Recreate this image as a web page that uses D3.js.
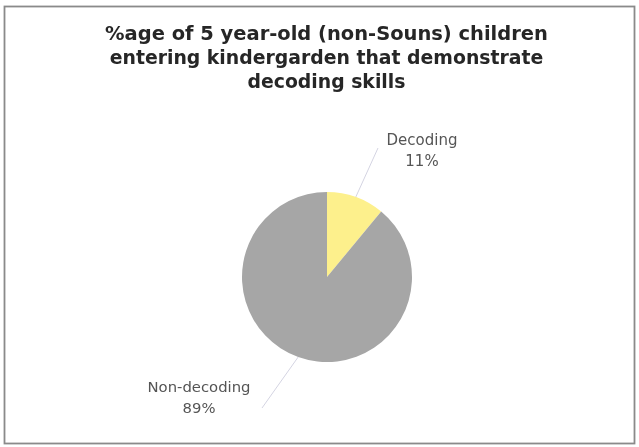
<!DOCTYPE html>
<html><head><meta charset="utf-8">
<script src="https://cdn.jsdelivr.net/npm/d3@7"></script>
<style>html,body{margin:0;padding:0;background:#fff;}svg{display:block;}</style>
</head><body>
<script>
const titleLines = ["%age of 5 year-old (non-Souns) children", "entering kindergarden that demonstrate", "decoding skills"];
const categories = ["Decoding", "Non-decoding"];
const values = [11, 89];
const colors = ["#fdf08c", "#a6a6a6"];

const W = 639, H = 447;
const svg = d3.select("body").append("svg").attr("width", W).attr("height", H);
svg.append("rect").attr("x", 4.5).attr("y", 6.5).attr("width", 630).attr("height", 437)
  .attr("fill", "#fff").attr("stroke", "#8a8a8a").attr("stroke-width", 1.8);

const defs = svg.append("defs");
defs.append("filter").attr("id", "blur").append("feGaussianBlur").attr("stdDeviation", 0.45);

const tg = svg.append("g").attr("filter", "url(#blur)");
const titleY = [40, 63.5, 87.5];
const titleW = [443, 434, 158];
titleLines.forEach((t, i) => {
  const el = tg.append("text").attr("x", 326.5).attr("y", titleY[i]).attr("text-anchor", "middle")
    .attr("font-family", "Verdana, 'DejaVu Sans', sans-serif").attr("font-weight", "bold")
    .attr("font-size", 15).attr("fill", "#262626").text(t);
  const w = el.node().getComputedTextLength();
  el.attr("font-size", 15 * titleW[i] / w);
});

const cx = 327, cy = 277, R = 85;
const pie = d3.pie().sort(null).value(d => d.v).startAngle(0).endAngle(2 * Math.PI);
const data = categories.map((c, i) => ({c, v: values[i], col: colors[i]}));
const arcs = pie(data);
const arc = d3.arc().innerRadius(0).outerRadius(R);
const g = svg.append("g").attr("transform", `translate(${cx},${cy})`).attr("filter", "url(#blur)");
g.selectAll("path").data(arcs).enter().append("path").attr("d", arc).attr("fill", d => d.data.col);

// leader lines & labels
const labelCfg = [
  {end: [378 - cx, 148 - cy], lx: 422, ly: 145, w1: 71},
  {end: [262 - cx, 408 - cy], lx: 199, ly: 392, w1: 103}
];
arcs.forEach((a, i) => {
  const m = (a.startAngle + a.endAngle) / 2;
  const sx = Math.sin(m) * R, sy = -Math.cos(m) * R;
  const cfg = labelCfg[i];
  g.append("line").attr("x1", sx).attr("y1", sy).attr("x2", cfg.end[0]).attr("y2", cfg.end[1])
    .attr("stroke", "#d4d4e2").attr("stroke-width", 1);
  const t1 = svg.append("text").attr("x", cfg.lx).attr("y", cfg.ly).attr("text-anchor", "middle")
    .attr("font-family", "Verdana, 'DejaVu Sans', sans-serif").attr("font-size", 12)
    .attr("fill", "#555").attr("filter", "url(#blur)").text(a.data.c);
  const w = t1.node().getComputedTextLength();
  const fs = 12 * cfg.w1 / w;
  t1.attr("font-size", fs);
  svg.append("text").attr("x", cfg.lx).attr("y", cfg.ly + 21).attr("text-anchor", "middle")
    .attr("font-family", "Verdana, 'DejaVu Sans', sans-serif").attr("font-size", fs)
    .attr("fill", "#555").attr("filter", "url(#blur)").text(Math.round(a.data.v) + "%");
});
</script>
</body></html>
